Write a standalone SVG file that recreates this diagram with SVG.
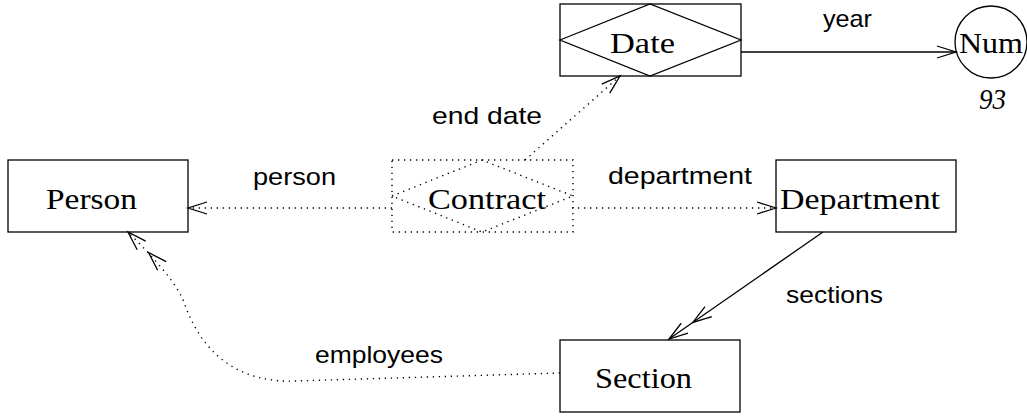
<svg xmlns="http://www.w3.org/2000/svg" width="1027" height="416" viewBox="0 0 1027 416">
<style>
.box{fill:none;stroke:#000;stroke-width:1.3}
.dot{fill:none;stroke:#000;stroke-width:1.4;stroke-dasharray:1.3 4.7}
.ln{fill:none;stroke:#000;stroke-width:1.3}
.ah{fill:none;stroke:#000;stroke-width:1.3;stroke-dasharray:none}
.nt{font-family:"Liberation Serif","DejaVu Serif",serif;font-size:30px;fill:#000}
.lb{font-family:"Liberation Sans","DejaVu Sans",sans-serif;font-size:24px;fill:#000}
.it{font-family:"Liberation Serif","DejaVu Serif",serif;font-size:29px;font-style:italic;fill:#000}
</style>
<defs>
<marker id="a1" markerUnits="userSpaceOnUse" orient="auto" markerWidth="40" markerHeight="20" refX="0" refY="0" viewBox="-30 -10 40 20" overflow="visible">
<path class="ah" d="M-19,-6 L0,0 L-19,6"/>
</marker>
<marker id="a2" markerUnits="userSpaceOnUse" orient="auto" markerWidth="60" markerHeight="20" refX="0" refY="0" viewBox="-55 -10 60 20" overflow="visible">
<path class="ah" d="M-19,-6 L0,0 L-19,6 M-48,-6 L-29,0 L-48,6"/>
</marker>
</defs>
<rect width="1027" height="416" fill="#fff"/>
<g id="connectors">
<path class="ln" d="M741,52 L956,52" marker-end="url(#a1)"/>
<path class="dot" d="M392,208 L188,208" marker-end="url(#a1)"/>
<path class="dot" d="M572,208 L776,208" marker-end="url(#a1)"/>
<path class="dot" d="M525,160 L620,76" marker-end="url(#a1)"/>
<path class="ln" d="M823,232 L669,339" marker-end="url(#a2)"/>
<path class="dot" d="M560,373 L295,381 C245,383 205,360 185,305 C178,285 158,262 128,232" marker-end="url(#a2)"/>
<text class="lb" x="823" y="27" textLength="49" lengthAdjust="spacingAndGlyphs">year</text>
<text class="lb" x="432" y="124" textLength="110" lengthAdjust="spacingAndGlyphs">end date</text>
<text class="lb" x="253" y="185" textLength="83" lengthAdjust="spacingAndGlyphs">person</text>
<text class="lb" x="608" y="184" textLength="144" lengthAdjust="spacingAndGlyphs">department</text>
<text class="lb" x="786" y="303" textLength="97" lengthAdjust="spacingAndGlyphs">sections</text>
<text class="lb" x="315" y="363" textLength="128" lengthAdjust="spacingAndGlyphs">employees</text>
</g>
<g id="person">
<rect class="box" x="8" y="160" width="180" height="72"/>
<text class="nt" x="46" y="209" textLength="91" lengthAdjust="spacingAndGlyphs">Person</text>
</g>
<g id="date">
<rect class="box" x="560" y="4" width="181" height="72"/>
<path class="box" d="M560,40 L650,4 L741,40 L650,76 Z"/>
<text class="nt" x="610" y="53" textLength="65" lengthAdjust="spacingAndGlyphs">Date</text>
</g>
<g id="num">
<circle class="box" cx="991" cy="42" r="36"/>
<text class="nt" x="959" y="53" textLength="64" lengthAdjust="spacingAndGlyphs">Num</text>
<text class="it" x="979" y="109" textLength="27" lengthAdjust="spacingAndGlyphs">93</text>
</g>
<g id="contract">
<rect class="dot" x="392" y="160" width="181" height="72"/>
<path class="dot" d="M392,196 L482,160 L573,196 L482,232 Z"/>
<text class="nt" x="428" y="209" textLength="118" lengthAdjust="spacingAndGlyphs">Contract</text>
</g>
<g id="department">
<rect class="box" x="776" y="160" width="180" height="72"/>
<text class="nt" x="780" y="209" textLength="160" lengthAdjust="spacingAndGlyphs">Department</text>
</g>
<g id="section">
<rect class="box" x="560" y="340" width="180" height="72"/>
<text class="nt" x="595" y="388" textLength="97" lengthAdjust="spacingAndGlyphs">Section</text>
</g>
</svg>
